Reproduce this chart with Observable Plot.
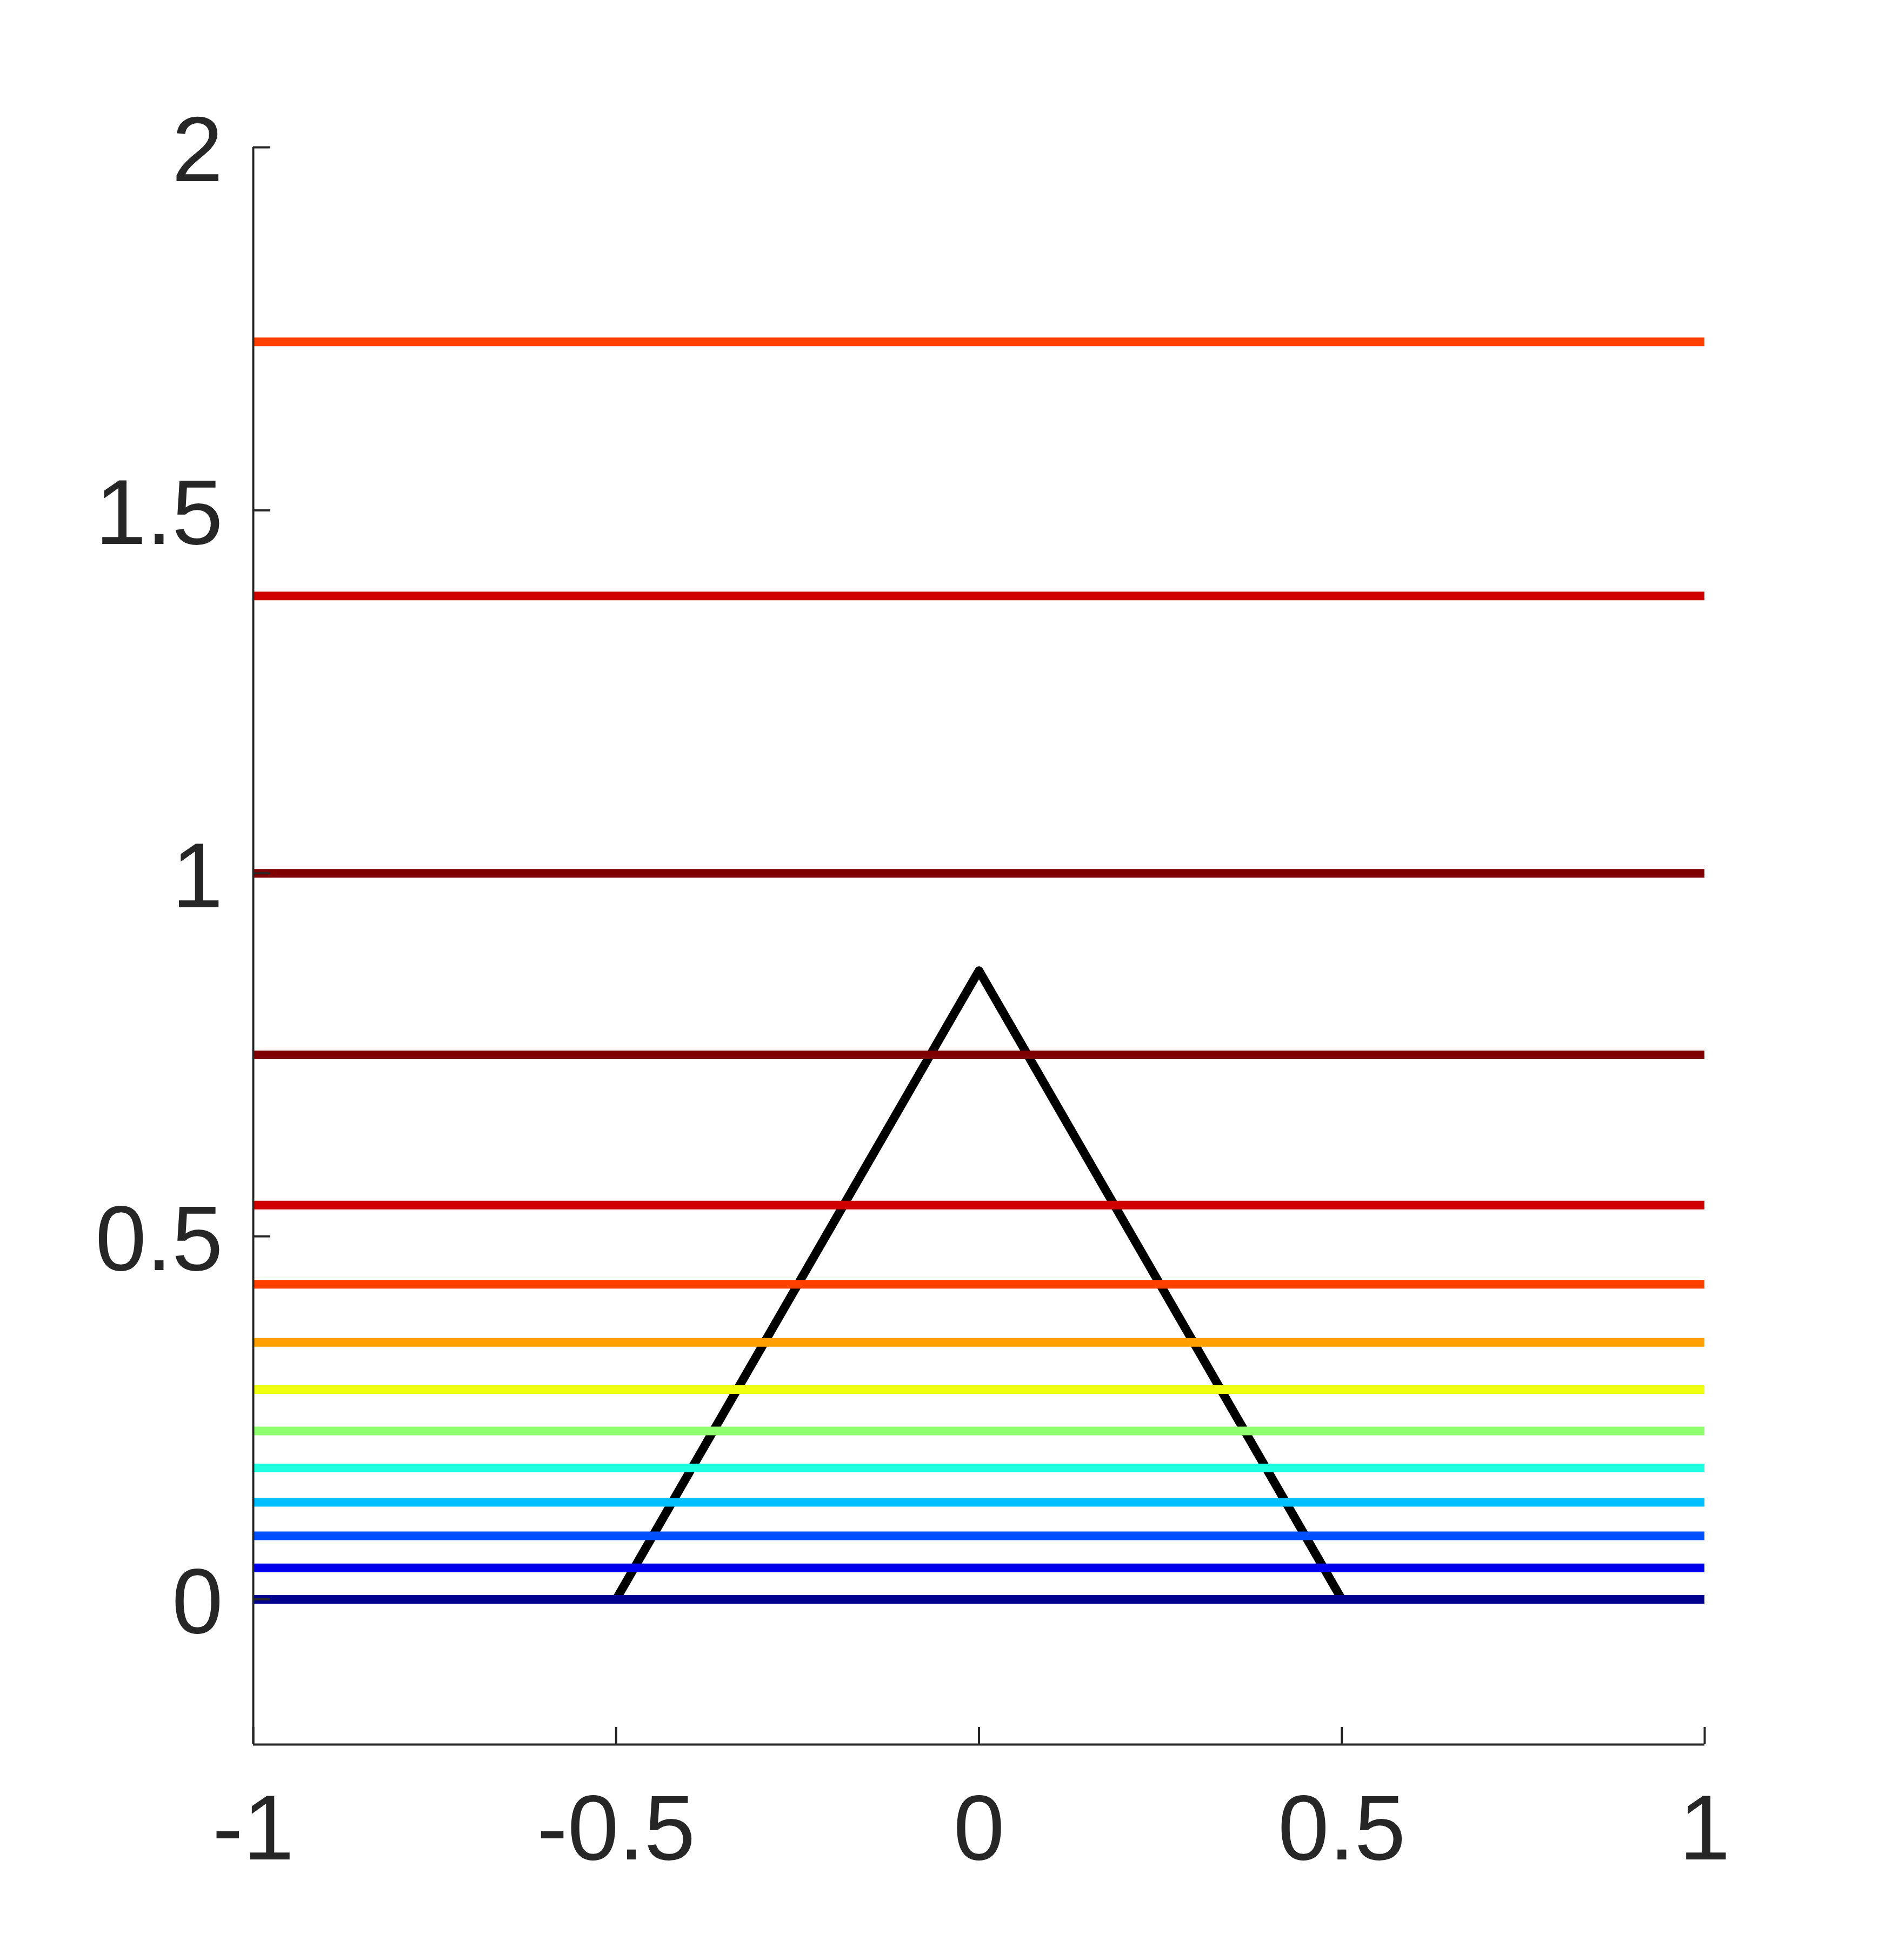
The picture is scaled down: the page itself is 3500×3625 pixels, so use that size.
<!DOCTYPE html>
<html>
<head>
<meta charset="utf-8">
<script src="https://cdn.jsdelivr.net/npm/d3@7"></script>
<script src="https://cdn.jsdelivr.net/npm/@observablehq/plot@0.6"></script>
<style>
  html, body { margin: 0; padding: 0; background: #ffffff; }
  #chart svg { display: block; }
</style>
</head>
<body>
<div id="chart"></div>
<script>
// Horizontal level lines (y values) and their colours
const levels = [0, 0.0434, 0.0874, 0.1336, 0.181, 0.232, 0.289, 0.354, 0.434, 0.543, 0.75, 1.0, 1.382, 1.732];
const levelColors = ["#00008F", "#0000EF", "#0050FF", "#00BFFF", "#1FFFDF", "#8FFF6F", "#EFFF0F", "#FF9F00", "#FF3F00", "#CF0000", "#7F0000", "#7F0000", "#CF0000", "#FF3F00"];

// Triangle outline
const triX = [-0.5, 0, 0.5];
const triY = [0, 0.866, 0];

// Axis ticks
const xTicks = [-1, -0.5, 0, 0.5, 1];
const yTicks = [0, 0.5, 1, 1.5, 2];

const W = 3500, H = 3625;
const mL = 468, mR = 347, mT = 272, mB = 399;
const plotW = W - mL - mR, plotH = H - mT - mB;
const tickLen = 32;
const axisColor = "#262626";
const fmt = d => String(d);

const levelData = levels.map((v, i) => ({y: v, c: levelColors[i]}));
const triData = triX.map((x, i) => ({x, y: triY[i]}));

const chart = Plot.plot({
  width: W,
  height: H,
  marginLeft: mL,
  marginRight: mR,
  marginTop: mT,
  marginBottom: mB,
  style: {fontFamily: "'Liberation Sans', Arial, Helvetica, sans-serif", background: "#ffffff", color: axisColor},
  x: {domain: [-1, 1]},
  y: {domain: [-0.2, 2]},
  marks: [
    Plot.line(triData, {x: "x", y: "y", stroke: "#000000", strokeWidth: 16, strokeLinejoin: "round", strokeLinecap: "butt"}),
    Plot.ruleY(levelData, {y: "y", stroke: "c", strokeWidth: 16}),
    // axis lines
    Plot.ruleX([-1], {stroke: axisColor, strokeWidth: 4}),
    Plot.ruleY([-0.2], {stroke: axisColor, strokeWidth: 4}),
    // inward ticks
    Plot.tickY(yTicks, {y: d => d, stroke: axisColor, strokeWidth: 4, insetRight: plotW - tickLen}),
    Plot.tickX(xTicks, {x: d => d, stroke: axisColor, strokeWidth: 4, insetTop: plotH - tickLen}),
    // labels
    Plot.axisY(yTicks, {tickSize: 0, tickPadding: 56, fontSize: 170, tickFormat: fmt, label: null, fill: axisColor, dy: 8}),
    Plot.axisX(xTicks, {tickSize: 0, tickPadding: 92, fontSize: 170, tickFormat: fmt, label: null, fill: axisColor})
  ]
});

document.getElementById("chart").appendChild(chart);
</script>
</body>
</html>
